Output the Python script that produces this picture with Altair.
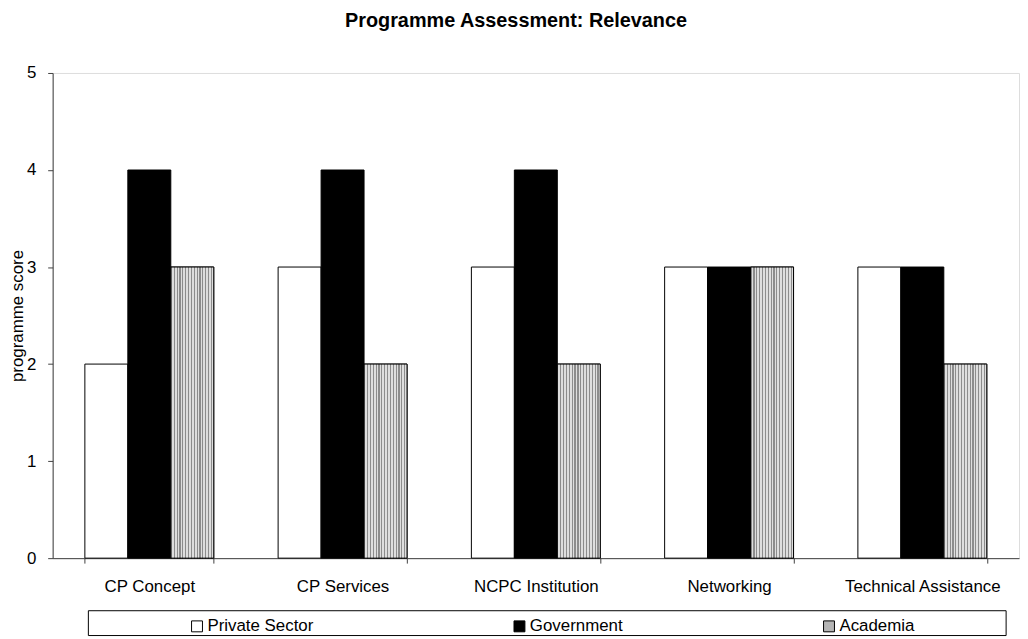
import altair as alt
import pandas as pd

categories = ["CP Concept", "CP Services", "NCPC Institution", "Networking", "Technical Assistance"]
series = ["Private Sector", "Government", "Academia"]
private_sector = [2, 3, 3, 3, 3]
government = [4, 4, 4, 3, 3]
academia = [3, 2, 2, 3, 2]

rows = []
for i, c in enumerate(categories):
    rows.append({"category": c, "group": "Private Sector", "score": private_sector[i]})
    rows.append({"category": c, "group": "Government", "score": government[i]})
    rows.append({"category": c, "group": "Academia", "score": academia[i]})
df = pd.DataFrame(rows)

FONT = "Liberation Sans"
W, H = 974, 489

# striped fill for Academia bars
stops = []
n = 15
for i in range(n):
    a = i / n
    b = (i + 0.4) / n
    c = (i + 1) / n
    stops += [
        {"offset": a, "color": "#8c8c8c"},
        {"offset": b, "color": "#8c8c8c"},
        {"offset": b, "color": "#dedede"},
        {"offset": c, "color": "#dedede"},
    ]
stripes = {"gradient": "linear", "x1": 0, "x2": 1, "y1": 0, "y2": 0, "stops": stops}

x_enc = alt.X(
    "category:N",
    sort=categories,
    title=None,
    scale=alt.Scale(paddingInner=0.333, paddingOuter=0.1667),
    axis=alt.Axis(
        labelAngle=0,
        tickBand="extent",
        tickSize=5,
        labelPadding=16,
        labelFontSize=17,
        labelColor="#000000",
        domainColor="#404040",
        tickColor="#404040",
        labelFont=FONT,
    ),
)
xoff = alt.XOffset("group:N", sort=series, scale=alt.Scale(domain=series))
y_enc = alt.Y(
    "score:Q",
    scale=alt.Scale(domain=[0, 5], nice=False),
    axis=alt.Axis(
        values=[0, 1, 2, 3, 4, 5],
        grid=False,
        tickSize=5,
        labelPadding=12,
        labelFontSize=17,
        labelColor="#000000",
        domainColor="#404040",
        tickColor="#404040",
        labelFont=FONT,
        title="programme score",
        titleFont=FONT,
        titleFontSize=17,
        titleFontWeight="normal",
        titleColor="#000000",
        titleX=-35,
        titleY=H / 2,
        titleBaseline="middle",
        titleAngle=-90,
    ),
)

bars = alt.Chart(df).mark_bar(stroke="black", strokeWidth=1).encode(
    x=x_enc,
    xOffset=xoff,
    y=y_enc,
    color=alt.Color(
        "group:N",
        sort=series,
        scale=alt.Scale(domain=series, range=["#ffffff", "#000000", "#b5b5b5"]),
        legend=alt.Legend(
            title=None,
            orient="none",
            legendX=137,
            legendY=549,
            direction="horizontal",
            symbolType="square",
            symbolSize=121,
            symbolStrokeColor="black",
            symbolStrokeWidth=1,
            labelFontSize=17,
            labelFont=FONT,
            labelColor="#000000",
            labelOffset=2,
            columnPadding=199,
            padding=0,
        ),
    ),
)

acad = alt.Chart(df[df["group"] == "Academia"]).mark_bar(
    stroke="black", strokeWidth=1, fill=stripes
).encode(x=x_enc, xOffset=xoff, y=y_enc)

box = alt.Chart(pd.DataFrame({"k": [0]})).mark_rect(
    filled=False, stroke="black", strokeWidth=1
).encode(
    x=alt.value(36), x2=alt.value(961), y=alt.value(542), y2=alt.value(567)
)

chart = alt.layer(bars, acad, box).properties(
    width=W,
    height=H,
    title=alt.TitleParams(
        "Programme Assessment: Relevance",
        font=FONT,
        fontSize=20,
        fontWeight="bold",
        color="#000000",
        anchor="middle",
        baseline="alphabetic",
        offset=17,
        dx=-20,
    ),
    padding={"left": 45, "top": 63, "right": 1, "bottom": 79},
    autosize=alt.AutoSizeParams(type="none"),
).configure_view(stroke="#999999", strokeWidth=1.2).configure(font=FONT)

chart.save("out.html", embed_options={"renderer": "svg", "actions": False})
